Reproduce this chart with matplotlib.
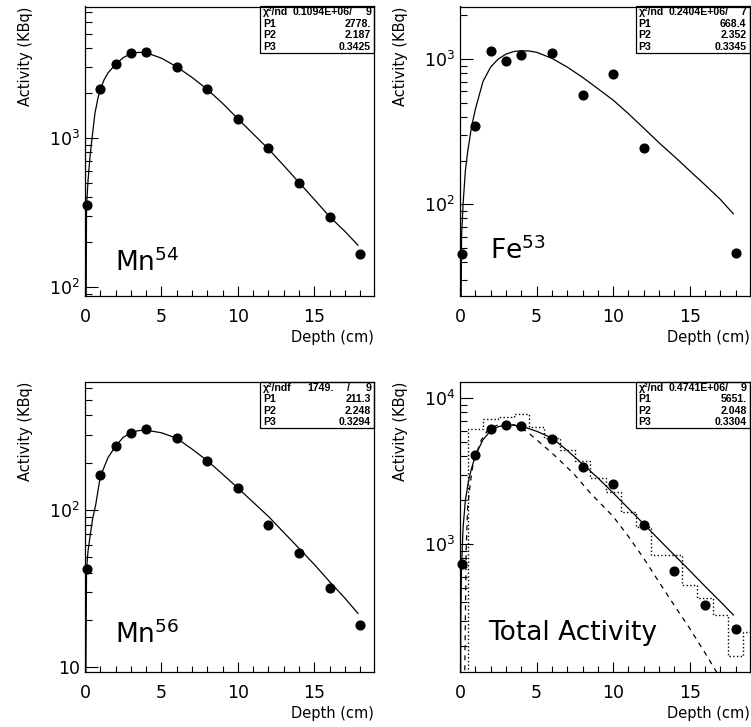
import numpy as np
import matplotlib
matplotlib.use('Agg')
import matplotlib.pyplot as plt
from matplotlib.ticker import LogLocator, MultipleLocator, FuncFormatter, NullFormatter
from matplotlib.patches import Rectangle

plt.rcParams['font.family'] = ['DejaVu Sans']
plt.rcParams['mathtext.default'] = 'regular'

# measured points (depth in cm, activity in KBq)
depth = [0.1, 1, 2, 3, 4, 6, 8, 10, 12, 14, 16, 18]
mn54 = [353, 2113, 3112, 3681, 3758, 2979, 2113, 1342, 857, 499, 294, 167]
mn56 = [42, 168, 256, 310, 327, 286, 206, 138, 80, 53, 32, 18.6]
total = [730, 4110, 6170, 6530, 6420, 5290, 3370, 2590, 1362, 659, 382, 264]
fe53_depth = [0.1, 1, 2, 3, 4, 6, 8, 10, 12, 18]
fe53 = [45.3, 347, 1141, 973, 1060, 1094, 562, 792, 243, 46]

# fitted curves
mn54_fx = [0, 0.1, 0.2, 0.33, 0.45, 0.65, 0.85, 1, 1.25, 1.5, 2, 2.5, 3, 3.5, 4, 5, 6, 7, 8, 9,
           10, 11, 12, 13, 14, 15, 16, 17, 17.85]
mn54_fy = [1, 350, 520, 750, 970, 1460, 1850, 2110, 2450, 2720, 3110, 3450, 3660, 3740, 3720, 3420,
           2990, 2540, 2110, 1700, 1340, 1060, 840, 650, 500, 385, 295, 235, 190]
fe53_fx = [0, 0.1, 0.2, 0.35, 0.5, 0.75, 1, 1.5, 2, 2.5, 3, 3.5, 4, 4.5, 5, 6, 7, 8, 9, 10, 11,
           12, 13, 14, 15, 16, 17, 17.85]
fe53_fy = [1, 60, 100, 170, 230, 340, 450, 700, 880, 1000, 1080, 1125, 1140, 1135, 1112, 1011, 880,
           748, 625, 521, 420, 334, 265, 213, 170, 136, 108, 86]
mn56_fx = [0, 0.1, 0.2, 0.33, 0.5, 0.7, 1, 1.5, 2, 2.5, 3, 3.5, 4, 5, 6, 7, 8, 9, 10, 11, 12, 13,
           14, 15, 16, 17, 17.85]
mn56_fy = [1, 42, 55, 68, 88, 108, 163, 215, 255, 290, 310, 320, 322, 310, 286, 244, 206, 169, 138,
           112, 91, 72, 57, 45, 35, 27.5, 22]
total_fx = [0, 0.05, 0.1, 0.2, 0.35, 0.55, 0.75, 1, 1.5, 2, 2.5, 3, 3.5, 4, 5, 6, 7, 8, 9, 10, 11,
            12, 13, 14, 15, 16, 17, 17.85]
total_fy = [1, 300, 700, 1300, 2000, 2700, 3300, 4050, 5200, 6000, 6400, 6550, 6550, 6450, 5950,
            5350, 4400, 3550, 2850, 2250, 1760, 1376, 1075, 842, 660, 515, 405, 328]
sum_fx = [0.3, 0.4, 0.5, 0.65, 0.8, 1, 1.4, 1.85, 2.5, 3, 3.5, 4, 4.5, 5.4, 6.3, 7.4, 8.5, 10, 11,
          12, 13, 14, 15, 16, 16.74, 17.2]
sum_fy = [100, 900, 1800, 2500, 3300, 4000, 5200, 6140, 6600, 6700, 6600, 6250, 5760, 4790, 3950,
          3060, 2250, 1550, 1130, 800, 550, 380, 265, 180, 134, 100]

# dotted histogram of the total activity
hist_centers = list(range(1, 20))
hist_vals = [6170, 7210, 7480, 7800, 6320, 5320, 4430, 3740, 2830, 2290, 1672, 1320, 845, 845,
             526, 426, 328, 172, 251]

W, H = 751, 727
fig = plt.figure(figsize=(W / 100, H / 100), dpi=100)


def make_ax(left, top, right, bottom, ylim):
    ax = fig.add_axes([left / W, 1 - bottom / H, (right - left) / W, (bottom - top) / H])
    ax.set_yscale('log')
    ax.set_xlim(0, 18.9)
    ax.set_ylim(*ylim)
    ax.xaxis.set_major_locator(MultipleLocator(5))
    ax.xaxis.set_minor_locator(MultipleLocator(1))
    ax.yaxis.set_major_locator(LogLocator(base=10))
    ax.yaxis.set_minor_locator(LogLocator(base=10, subs=np.arange(2, 10)))
    ax.yaxis.set_minor_formatter(NullFormatter())
    ax.yaxis.set_major_formatter(FuncFormatter(
        lambda v, p: '10' if abs(v - 10) < 1e-6 else r'$10^{%d}$' % round(np.log10(v))))
    ax.tick_params(axis='both', which='both', direction='in', top=False, right=False, width=0.8)
    ax.tick_params(axis='x', which='major', length=7.5, labelsize=12.5, pad=8.5)
    ax.tick_params(axis='x', which='minor', length=4)
    ax.tick_params(axis='y', which='major', length=9, labelsize=12.5, pad=3.5)
    ax.tick_params(axis='y', which='minor', length=5)
    for s in ax.spines.values():
        s.set_linewidth(0.9)
    ax.set_xlabel('Depth (cm)', fontsize=10.5, loc='right')
    ax.xaxis.set_label_coords(1.0, -0.117)
    ax.set_ylabel('Activity (KBq)', fontsize=10.5, loc='top')
    ax.yaxis.set_label_coords(-0.18, 1.0)
    return ax


def stats_box(ax, chi, rows):
    pw = ax.get_position().width * W
    ph = ax.get_position().height * H
    w, h = 114 / pw, 46 / ph
    x0, y0 = 1 - w, 1 - h
    ax.add_patch(Rectangle((x0, y0), w, h, transform=ax.transAxes, fill=False, lw=0.9,
                           clip_on=False, zorder=5))
    kw = dict(transform=ax.transAxes, fontsize=7.6, fontweight='bold', va='center',
              family=['Liberation Sans', 'DejaVu Sans'], zorder=6)
    y = 1 - 0.5 * h / 4
    ax.text(x0 + 3 / pw, y, chi[0], ha='left', **kw)
    if len(chi) == 4:
        ax.text(1 - 40 / pw, y, chi[1], ha='right', **kw)
        ax.text(1 - 24 / pw, y, chi[2], ha='right', **kw)
        ax.text(1 - 3 / pw, y, chi[3], ha='right', **kw)
    else:
        ax.text(1 - 21 / pw, y, chi[1], ha='right', **kw)
        ax.text(1 - 3 / pw, y, chi[2], ha='right', **kw)
    for i, (lab, val) in enumerate(rows):
        y = 1 - (i + 1.5) * h / 4
        ax.text(x0 + 3 / pw, y, lab, ha='left', **kw)
        ax.text(1 - 3 / pw, y, val, ha='right', **kw)


mk = dict(marker='o', ms=6.3, color='black', ls='none', zorder=4, clip_on=False)

# Mn54
ax1 = make_ax(85, 6.5, 374, 296, (86.6, 7600))
ax1.plot(mn54_fx, mn54_fy, color='black', lw=0.9)
ax1.plot(depth, mn54, **mk)
ax1.text(0.104, 0.087, r'Mn$^{54}$', transform=ax1.transAxes, fontsize=19, va='baseline')
stats_box(ax1, ('χ²/nd', '0.1094E+06/', '9'),
          [('P1', '2778.'), ('P2', '2.187'), ('P3', '0.3425')])

# Fe53
ax2 = make_ax(460, 6.5, 749.5, 296, (23.4, 2297))
ax2.plot(fe53_fx, fe53_fy, color='black', lw=0.9)
ax2.plot(fe53_depth, fe53, **mk)
ax2.text(0.104, 0.128, r'Fe$^{53}$', transform=ax2.transAxes, fontsize=19, va='baseline')
stats_box(ax2, ('χ²/nd', '0.2404E+06/', '7'),
          [('P1', '668.4'), ('P2', '2.352'), ('P3', '0.3345')])

# Mn56
ax3 = make_ax(85, 382, 374, 672, (9.33, 652))
ax3.plot(mn56_fx, mn56_fy, color='black', lw=0.9)
ax3.plot(depth, mn56, **mk)
ax3.text(0.104, 0.10, r'Mn$^{56}$', transform=ax3.transAxes, fontsize=19, va='baseline')
stats_box(ax3, ('χ²/ndf', '1749.', '/', '9'),
          [('P1', '211.3'), ('P2', '2.248'), ('P3', '0.3294')])

# Total activity
ax4 = make_ax(460, 382, 749.5, 672, (133.4, 12937))
edges = [c - 0.5 for c in hist_centers] + [hist_centers[-1] + 0.5]
ax4.stairs(hist_vals, edges, baseline=1, color='black', ls=':', lw=1.0)
ax4.plot(sum_fx, sum_fy, color='black', lw=0.9, ls=(0, (4, 4)))
ax4.plot(total_fx, total_fy, color='black', lw=0.9)
ax4.plot(depth, total, **mk)
ax4.text(0.097, 0.11, 'Total Activity', transform=ax4.transAxes, fontsize=19, va='baseline')
stats_box(ax4, ('χ²/nd', '0.4741E+06/', '9'),
          [('P1', '5651.'), ('P2', '2.048'), ('P3', '0.3304')])

fig.savefig('out.png', dpi=100)
